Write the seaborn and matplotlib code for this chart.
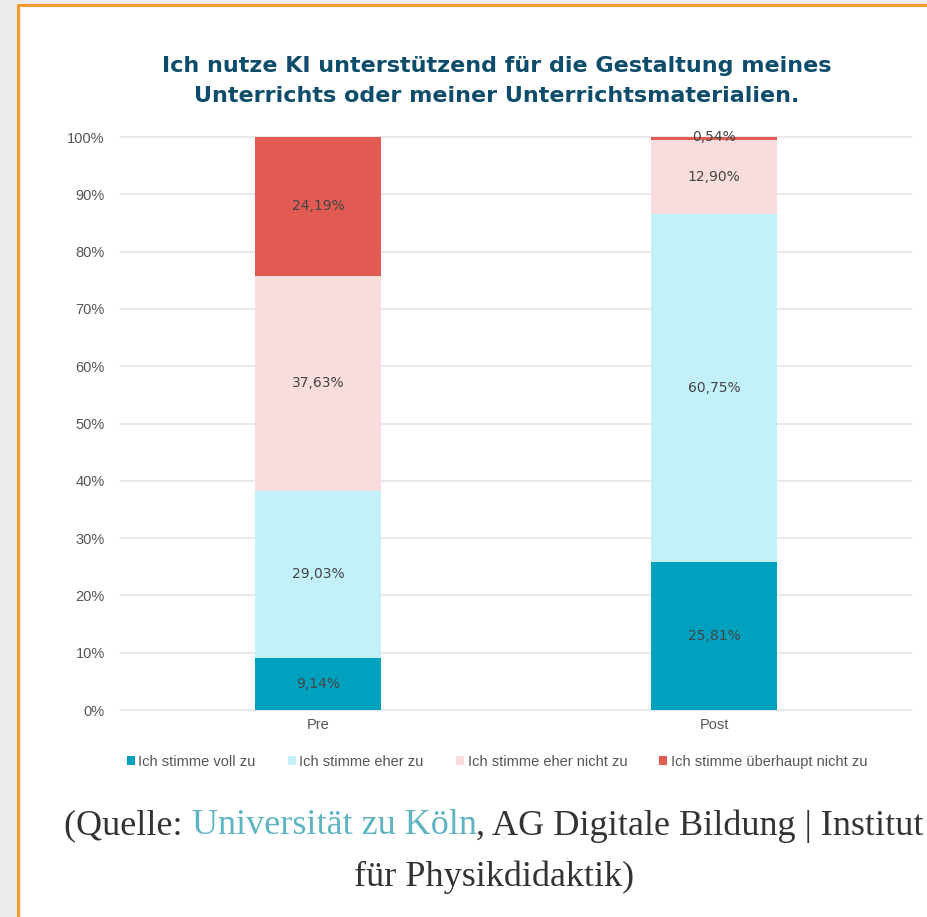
import matplotlib
matplotlib.use("Agg")
import matplotlib.pyplot as plt
import seaborn as sns
import pandas as pd
import numpy as np
from matplotlib.patches import Rectangle, Patch
from matplotlib.ticker import PercentFormatter

categories = ["Pre", "Post"]
series_names = ["Ich stimme voll zu", "Ich stimme eher zu",
                "Ich stimme eher nicht zu", "Ich stimme überhaupt nicht zu"]
voll_zu = [9.14, 25.81]
eher_zu = [29.03, 60.75]
eher_nicht = [37.63, 12.90]
ueberhaupt_nicht = [24.19, 0.54]
colors = ["#00a1bf", "#c2f1fc", "#f9dcdc", "#e15b53"]
title = "Ich nutze KI unterstützend für die Gestaltung meines\nUnterrichts oder meiner Unterrichtsmaterialien."

series = [voll_zu, eher_zu, eher_nicht, ueberhaupt_nicht]

sns.set_theme(style="white")
plt.rcParams["font.family"] = ["DejaVu Sans"]

fig = plt.figure(figsize=(9.28, 9.17), dpi=100)
fig.patch.set_facecolor("#ececec")
# white card with orange border
fig.patches.append(Rectangle((18/928, 0), 1 - 18/928, 1 - 5/917, transform=fig.transFigure,
                             facecolor="white", edgecolor="none", zorder=-5))
fig.add_artist(plt.Line2D([18/928, 18/928], [0, 1 - 5/917], color="#f39a2b", lw=2.2,
                          transform=fig.transFigure, zorder=-4))
fig.add_artist(plt.Line2D([18/928, 1], [1 - 5/917, 1 - 5/917], color="#f39a2b", lw=2.2,
                          transform=fig.transFigure, zorder=-4))

ax = fig.add_axes([120/928, 1 - 710/917, 792/928, (710 - 137)/917])
ax.set_facecolor("none")

rows = []
for i, cat in enumerate(categories):
    cum = 0
    for name, vals in zip(series_names, series):
        cum += vals[i]
        rows.append({"cat": cat, "series": name, "value": vals[i], "cum": cum})
df = pd.DataFrame(rows)

for name, col in reversed(list(zip(series_names, colors))):
    sub = df[df["series"] == name]
    sns.barplot(data=sub, x="cat", y="cum", order=categories, color=col,
                width=0.316, saturation=1, ax=ax, zorder=2, edgecolor="none", linewidth=0)

for i, cat in enumerate(categories):
    sub = df[df["cat"] == cat]
    for _, r in sub.iterrows():
        mid = r["cum"] - r["value"] / 2
        if r["value"] < 2:
            mid = r["cum"]
        ax.text(i, mid, f"{r['value']:.2f}%".replace(".", ","), ha="center", va="center",
                fontsize=10, color="#454545", zorder=3)

ax.set_ylim(0, 100)
ax.set_xlim(-0.5, 1.5)
ax.set_yticks(np.arange(0, 101, 10))
ax.yaxis.set_major_formatter(PercentFormatter(decimals=0))
ax.grid(axis="y", color="#e3e3e3", lw=1.1, zorder=0)
ax.set_axisbelow(True)
for gl in ax.get_ygridlines():
    gl.set_clip_on(False)
for s in ax.spines.values():
    s.set_visible(False)
ax.set_xlabel("")
ax.set_ylabel("")
ax.tick_params(axis="y", labelsize=10.5, colors="#555555", pad=11, length=0)
ax.tick_params(axis="x", labelsize=10.5, colors="#555555", pad=6, length=0)
for lab in ax.get_yticklabels() + ax.get_xticklabels():
    lab.set_family("Liberation Sans")

fig.text(497/928, 1 - 81/917, title, ha="center", va="center", fontsize=16,
         fontweight="bold", color="#0d4d6b", linespacing=1.65)

handles = [Patch(facecolor=c, edgecolor="none") for c in colors]
fig.legend(handles, series_names, loc="center", bbox_to_anchor=(497/928, 1 - 762/917),
           ncol=4, frameon=False, prop={"family": "Liberation Sans", "size": 10.5},
           labelcolor="#555555",
           handlelength=0.55, handleheight=0.55, handletextpad=0.25, columnspacing=2.2)

# caption with coloured part
fig.canvas.draw()
renderer = fig.canvas.get_renderer()
cap_size = 26
parts = [("(Quelle: ", "#333333"), ("Universität zu Köln", "#5fb4c4"),
         (", AG Digitale Bildung | Institut", "#333333")]
texts = []
widths = []
for s, c in parts:
    t = fig.text(0, 1 - 826/917, s, ha="left", va="center", fontsize=cap_size,
                 family="Liberation Serif", color=c)
    texts.append(t)
    widths.append(t.get_window_extent(renderer).width)
total = sum(widths)
x0 = 494 - total / 2
for t, w in zip(texts, widths):
    t.set_x(x0 / 928)
    x0 += w
fig.text(494/928, 1 - 877/917, "für Physikdidaktik)", ha="center", va="center",
         fontsize=cap_size, family="Liberation Serif", color="#333333")

fig.savefig("out.png", dpi=100, facecolor=fig.get_facecolor())
